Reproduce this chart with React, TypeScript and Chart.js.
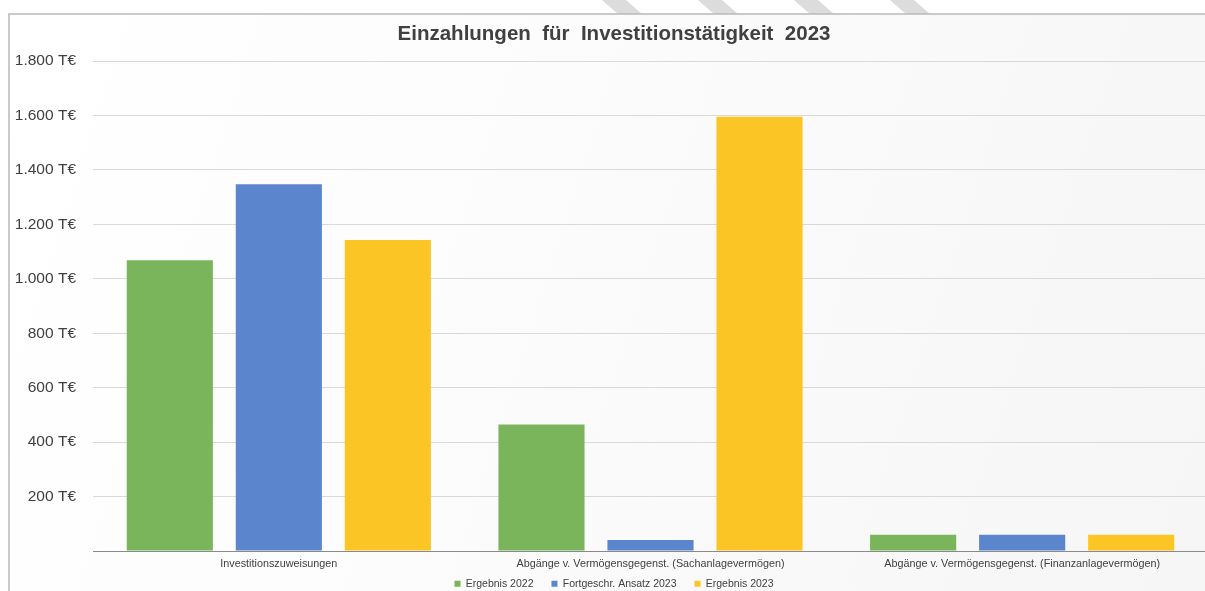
import React, { useEffect, useRef } from "react";
import { Chart, registerables } from "chart.js";

Chart.register(...registerables);

const categories = [
  "Investitionszuweisungen",
  "Abgänge v. Vermögensgegenst. (Sachanlagevermögen)",
  "Abgänge v. Vermögensgegenst. (Finanzanlagevermögen)",
];
const ergebnis2022 = [1068, 465, 60];
const ansatz2023 = [1347, 40, 60];
const ergebnis2023 = [1142, 1595, 60];
const seriesNames = ["Ergebnis 2022", "Fortgeschr. Ansatz 2023", "Ergebnis 2023"];
const yTickLabels = ["", "200 T€", "400 T€", "600 T€", "800 T€", "1.000 T€", "1.200 T€", "1.400 T€", "1.600 T€", "1.800 T€"];
const titleText = "Einzahlungen  für  Investitionstätigkeit  2023";

const FONT = "'Liberation Sans', Arial, sans-serif";

const framePlugin = {
  id: "frame",
  beforeDraw(chart: any) {
    const { ctx, width, height } = chart;
    ctx.save();
    ctx.fillStyle = "#ffffff";
    ctx.fillRect(0, 0, width, height);
    ctx.fillStyle = "#dcdcdc";
    const starts = [602, 698, 794, 890];
    for (const x0 of starts) {
      ctx.beginPath();
      ctx.moveTo(x0, 0);
      ctx.lineTo(x0 + 24, 0);
      ctx.lineTo(x0 + 40, 14);
      ctx.lineTo(x0 + 16, 14);
      ctx.closePath();
      ctx.fill();
    }
    const g = ctx.createLinearGradient(9, 14, 1215, 400);
    g.addColorStop(0, "#ffffff");
    g.addColorStop(0.4, "#fcfcfc");
    g.addColorStop(1, "#f6f6f6");
    ctx.fillStyle = g;
    ctx.fillRect(9, 14, 1206, height - 14);
    ctx.strokeStyle = "#b9b9b9";
    ctx.lineWidth = 1.5;
    ctx.strokeRect(9, 14, 1206, height);
    ctx.restore();
  },
};

const noLabelClip = (scale: any) => {
  scale._computeLabelArea = () => undefined;
};

export default function App() {
  const ref = useRef<HTMLCanvasElement>(null);
  useEffect(() => {
    if (!ref.current) return;
    const chart = new Chart(ref.current, {
      type: "bar",
      data: {
        labels: categories,
        datasets: [
          { label: seriesNames[0], data: ergebnis2022, backgroundColor: "#7ab55c" },
          { label: seriesNames[1], data: ansatz2023, backgroundColor: "#5b85cd" },
          { label: seriesNames[2], data: ergebnis2023, backgroundColor: "#fcc526" },
        ],
      },
      options: {
        animation: false,
        responsive: false,
        maintainAspectRatio: false,
        devicePixelRatio: 1,
        layout: { padding: { left: 20, right: 17, top: 0, bottom: 0 } },
        datasets: { bar: { barPercentage: 0.79, categoryPercentage: 0.88 } },
        scales: {
          x: {
            grid: { display: false, drawTicks: false },
            border: { display: true, color: "#8a8a8a", width: 1 },
            ticks: {
              padding: 7,
              color: "#404040",
              maxRotation: 0,
              autoSkip: false,
              font: { family: FONT, size: 10.8 },
            },
            afterFit(scale: any) {
              scale.height = 9.5;
            },
            afterUpdate: noLabelClip,
          },
          y: {
            min: 0,
            max: 1800,
            grid: { color: "#d9d9d9", drawTicks: false, lineWidth: 1 },
            border: { display: false },
            ticks: {
              stepSize: 200,
              padding: 17,
              color: "#404040",
              font: { family: FONT, size: 15.5 },
              callback: (_v: any, i: number) => yTickLabels[i],
            },
            afterFit(scale: any) {
              scale.width = 73;
            },
            afterUpdate: noLabelClip,
          },
        },
        plugins: {
          title: {
            display: true,
            text: titleText,
            color: "#404040",
            font: { family: FONT, size: 20.5, weight: "bold" },
            padding: { top: 22.2, bottom: 14.2 },
          },
          legend: {
            position: "bottom",
            labels: {
              color: "#404040",
              boxWidth: 6,
              boxHeight: 6,
              padding: 18,
              font: { family: FONT, size: 10.5 },
            },
          },
          tooltip: { enabled: false },
        },
      },
      plugins: [framePlugin],
    });
    return () => chart.destroy();
  }, []);
  return (
    <div style={{ position: "fixed", left: 0, top: 0, width: 1205, height: 591, overflow: "hidden", background: "#fff" }}>
      <canvas ref={ref} width={1225} height={599} style={{ display: "block" }} />
    </div>
  );
}
